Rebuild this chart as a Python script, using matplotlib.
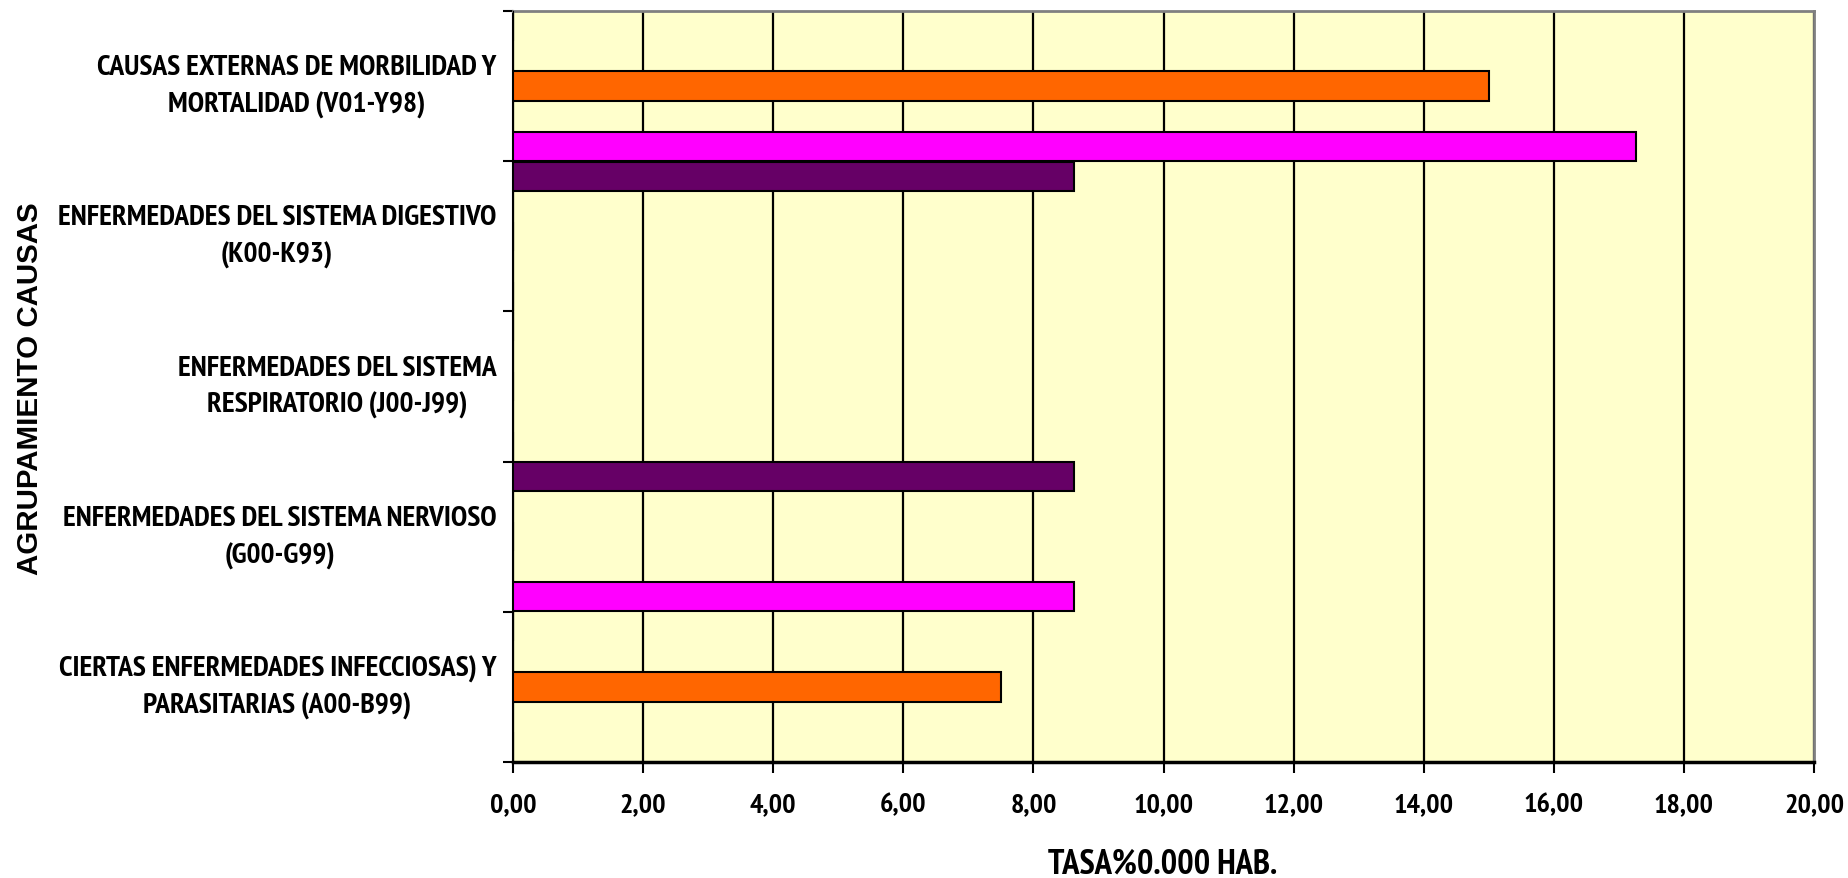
import matplotlib
matplotlib.use("Agg")
import matplotlib.pyplot as plt
from matplotlib import font_manager as fm
import numpy as np

# ---- data ----
categorias = [
    "CIERTAS ENFERMEDADES INFECCIOSAS) Y\nPARASITARIAS (A00-B99)",
    "ENFERMEDADES DEL SISTEMA NERVIOSO\n(G00-G99)",
    "ENFERMEDADES DEL SISTEMA\nRESPIRATORIO (J00-J99)",
    "ENFERMEDADES DEL SISTEMA DIGESTIVO\n(K00-K93)",
    "CAUSAS EXTERNAS DE MORBILIDAD Y\nMORTALIDAD (V01-Y98)",
]
serie_magenta = [0, 8.63, 0, 0, 17.26]
serie_naranja = [7.5, 0, 0, 0, 15.0]
serie_morada = [0, 8.63, 0, 8.63, 0]
x_ticks = [0, 2, 4, 6, 8, 10, 12, 14, 16, 18, 20]
x_ticklabels = ["0,00", "2,00", "4,00", "6,00", "8,00", "10,00", "12,00",
                "14,00", "16,00", "18,00", "20,00"]
x_label = "TASA%0.000 HAB."
y_label = "AGRUPAMIENTO CAUSAS"

bold_fams = {f.name for f in fm.fontManager.ttflist
             if isinstance(f.weight, int) and f.weight >= 600}
narrow = "Liberation Sans"
for cand in ["Liberation Sans Narrow", "Archivo Narrow", "PT Sans Narrow",
             "Roboto Condensed", "IBM Plex Sans Condensed", "Open Sans Condensed"]:
    if cand in bold_fams:
        narrow = cand
        break
wide = "Liberation Sans"

fig = plt.figure(figsize=(18.48, 8.79), dpi=100)
renderer = fig.canvas.get_renderer()


def fit_size(text, family, target_px, base=20.0):
    t = fig.text(0, 0, text, fontfamily=family, fontweight="bold", fontsize=base)
    w = t.get_window_extent(renderer).width
    t.remove()
    return base * target_px / w


cat_size = fit_size("CAUSAS EXTERNAS DE MORBILIDAD Y", narrow, 397)
tick_size = fit_size("10,00", narrow, 60)
xl_size = fit_size(x_label, narrow, 230)
yl_size = fit_size(y_label, wide, 372)

ax = fig.add_axes([0.2776, 0.132, 0.9816 - 0.2776, 0.9863 - 0.132])
ax.set_facecolor("#FFFFCC")

y = np.arange(len(categorias))
h = 0.195
ax.barh(y - 0.4, serie_magenta, height=h, color="#FF00FF", edgecolor="black", linewidth=1.5, zorder=3)
ax.barh(y, serie_naranja, height=h, color="#FF6600", edgecolor="black", linewidth=1.5, zorder=3)
ax.barh(y + 0.4, serie_morada, height=h, color="#660066", edgecolor="black", linewidth=1.5, zorder=3)

ax.set_xlim(0, 20)
ax.set_ylim(-0.5, len(categorias) - 0.5)
ax.set_xticks(x_ticks)
ax.set_xticklabels(x_ticklabels, fontfamily=narrow, fontweight="bold", fontsize=tick_size)
ax.xaxis.grid(True, color="black", linewidth=1.6, zorder=1)
ax.set_axisbelow(True)

ax.set_yticks(y)
ax.set_yticklabels(categorias, fontfamily=narrow, fontweight="bold", fontsize=cat_size,
                   multialignment="center", linespacing=1.5)
for lab in ax.get_yticklabels():
    lab.set_verticalalignment("center")
ax.tick_params(axis="y", which="major", length=0, pad=12)
ax.set_yticks(np.arange(-0.5, len(categorias), 1.0), minor=True)
ax.tick_params(axis="y", which="minor", length=7, width=1.5, direction="out")
ax.tick_params(axis="x", length=8, width=1.5, direction="out", pad=14)

for s in ["top", "right"]:
    ax.spines[s].set_color("#808080")
    ax.spines[s].set_linewidth(2)
ax.spines["left"].set_color("black")
ax.spines["left"].set_linewidth(1.5)
ax.spines["bottom"].set_color("black")
ax.spines["bottom"].set_linewidth(2.5)

fig.text(0.629, 0.017, x_label, ha="center", va="center", fontfamily=narrow,
         fontweight="bold", fontsize=xl_size)
fig.text(0.0165, 0.558, y_label, ha="center", va="center", rotation=90,
         fontfamily=wide, fontweight="bold", fontsize=yl_size)

fig.savefig("out.png", dpi=100, facecolor="white")
